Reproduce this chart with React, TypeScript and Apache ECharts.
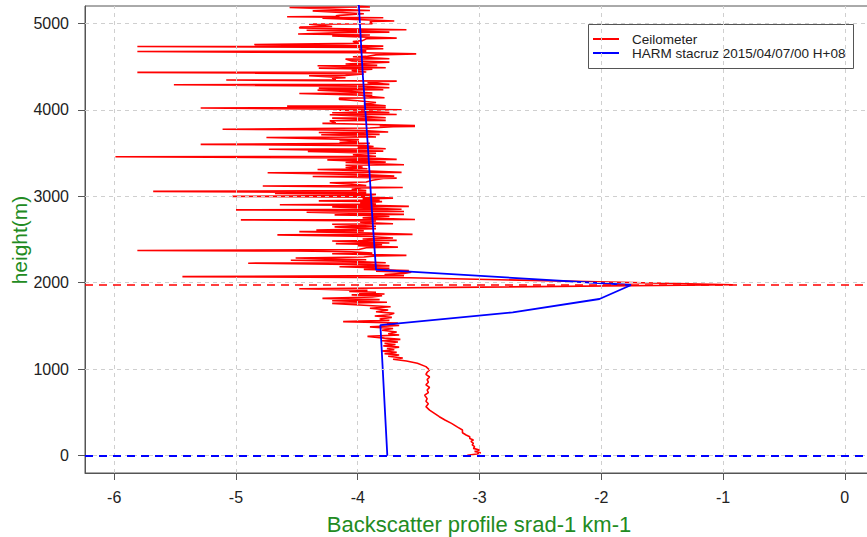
import { useEffect, useRef } from "react";
import * as echarts from "echarts";

// Axis ticks
const xTicks = [-6, -5, -4, -3, -2, -1, 0];
const yTicks = [0, 1000, 2000, 3000, 4000, 5000];

// Reference heights drawn as dashed horizontal lines (m)
const cloudLayerHeight = 1975;
const groundHeight = 0;

const seriesNames = ["Ceilometer", "HARM stacruz 2015/04/07/00 H+08"];

// Ceilometer backscatter profile: [log10 backscatter, height (m)]
const ceilometer: [number, number][] = [
  [-3.10, 5], [-3.02, 20], [-2.99, 35], [-3.04, 50], [-3.00, 66], [-3.05, 85], [-3.04, 104],
  [-3.06, 125], [-3.05, 143], [-3.07, 165], [-3.05, 181], [-3.08, 200], [-3.08, 220],
  [-3.11, 240], [-3.14, 265], [-3.14, 297], [-3.18, 330], [-3.23, 374], [-3.28, 410],
  [-3.33, 451], [-3.37, 490], [-3.41, 528], [-3.44, 567], [-3.42, 600], [-3.44, 630],
  [-3.43, 660], [-3.45, 700], [-3.42, 730], [-3.43, 760], [-3.41, 790], [-3.44, 820],
  [-3.42, 850], [-3.43, 880], [-3.41, 910], [-3.44, 940], [-3.43, 965], [-3.41, 991],
  [-3.44, 1030], [-3.51, 1068], [-3.60, 1095], [-3.71, 1115], [-3.63, 1130], [-3.75, 1150],
  [-3.66, 1165], [-3.78, 1180], [-3.68, 1195], [-3.80, 1210], [-3.70, 1225], [-3.76, 1240],
  [-3.66, 1255], [-3.79, 1270], [-3.69, 1285], [-3.78, 1300], [-3.67, 1315], [-3.80, 1330],
  [-3.65, 1345], [-3.78, 1360], [-3.92, 1380], [-3.66, 1395], [-3.75, 1410], [-3.68, 1430],
  [-3.80, 1450], [-3.71, 1470], [-3.90, 1490], [-3.66, 1505], [-3.76, 1520], [-3.67, 1535],
  [-4.12, 1550], [-3.74, 1565], [-3.82, 1580], [-3.72, 1600], [-3.86, 1615], [-3.74, 1630],
  [-3.70, 1646], [-3.85, 1665], [-3.75, 1684], [-3.90, 1705], [-3.73, 1723], [-3.95, 1740],
  [-4.21, 1761], [-3.76, 1775], [-4.21, 1792], [-3.82, 1805], [-4.29, 1819], [-3.88, 1835],
  [-3.80, 1850], [-4.05, 1860], [-3.78, 1870], [-3.99, 1880], [-3.85, 1890], [-4.07, 1900],
  [-3.92, 1912], [-4.48, 1930], [-0.92, 1976], [-3.58, 2058], [-5.44, 2071], [-3.62, 2082],
  [-3.78, 2095], [-3.62, 2108], [-3.56, 2121], [-3.85, 2133], [-3.58, 2141], [-3.95, 2155],
  [-3.74, 2167], [-4.15, 2185], [-3.74, 2195], [-3.90, 2210], [-4.90, 2226], [-3.77, 2232],
  [-4.00, 2245], [-4.55, 2260], [-3.93, 2266], [-4.51, 2286], [-3.95, 2298], [-3.85, 2310],
  [-3.60, 2316], [-4.21, 2335], [-3.88, 2343], [-4.05, 2358], [-4.52, 2368], [-5.81, 2372],
  [-3.99, 2385], [-3.93, 2405], [-3.67, 2412], [-4.00, 2428], [-3.80, 2440], [-4.18, 2452],
  [-3.74, 2460], [-4.21, 2483], [-3.68, 2490], [-3.96, 2505], [-3.71, 2518], [-3.90, 2535],
  [-4.66, 2553], [-3.55, 2559], [-3.90, 2575], [-4.48, 2591], [-3.95, 2600], [-4.34, 2610],
  [-3.85, 2625], [-4.19, 2646], [-3.85, 2652], [-4.21, 2676], [-3.71, 2682], [-3.98, 2700],
  [-3.85, 2715], [-4.96, 2727], [-3.53, 2732], [-3.96, 2750], [-3.74, 2766], [-3.90, 2778],
  [-4.19, 2785], [-3.62, 2790], [-4.42, 2815], [-3.62, 2824], [-3.90, 2835], [-5.00, 2843],
  [-3.64, 2850], [-3.95, 2865], [-4.21, 2877], [-3.58, 2883], [-3.90, 2895], [-4.64, 2902],
  [-3.85, 2910], [-3.98, 2925], [-3.80, 2938], [-4.32, 2947], [-3.82, 2955], [-3.96, 2970],
  [-3.71, 2978], [-3.92, 2990], [-5.03, 2999], [-3.93, 3010], [-3.85, 3022], [-4.68, 3033],
  [-3.93, 3042], [-5.68, 3056], [-3.93, 3065], [-4.05, 3080], [-3.97, 3095], [-3.63, 3101],
  [-4.78, 3118], [-3.93, 3125], [-4.05, 3140], [-4.23, 3156], [-3.93, 3165], [-3.88, 3185],
  [-3.79, 3205], [-3.68, 3210], [-4.37, 3228], [-3.70, 3233], [-3.95, 3250], [-4.74, 3271],
  [-3.64, 3276], [-3.90, 3292], [-4.33, 3310], [-3.92, 3318], [-4.10, 3332], [-3.96, 3338],
  [-4.10, 3358], [-3.62, 3364], [-3.90, 3378], [-4.10, 3390], [-3.77, 3395], [-4.25, 3421],
  [-3.68, 3426], [-3.92, 3442], [-5.99, 3457], [-3.85, 3462], [-4.04, 3480], [-3.85, 3498],
  [-4.41, 3517], [-3.79, 3522], [-4.73, 3544], [-3.77, 3549], [-4.00, 3565], [-3.87, 3575],
  [-3.95, 3585], [-5.29, 3600], [-3.90, 3612], [-4.15, 3622], [-3.99, 3630], [-4.15, 3648],
  [-3.99, 3655], [-4.75, 3680], [-3.85, 3686], [-4.00, 3700], [-4.30, 3711], [-3.82, 3716],
  [-4.32, 3738], [-3.75, 3743], [-3.95, 3760], [-4.41, 3770], [-5.11, 3775], [-3.90, 3790],
  [-3.71, 3803], [-3.53, 3808], [-3.82, 3815], [-3.53, 3819], [-3.95, 3832], [-4.29, 3843],
  [-4.18, 3847], [-4.23, 3873], [-3.77, 3877], [-4.21, 3903], [-3.77, 3907], [-3.95, 3925],
  [-4.23, 3942], [-3.68, 3946], [-4.21, 3965], [-3.74, 3969], [-4.15, 3996], [-3.64, 4000],
  [-5.29, 4020], [-3.77, 4025], [-4.58, 4042], [-3.77, 4047], [-3.95, 4065], [-3.85, 4085],
  [-4.00, 4105], [-4.15, 4120], [-4.15, 4135], [-3.78, 4139], [-3.96, 4162], [-3.88, 4166],
  [-4.48, 4189], [-3.88, 4194], [-4.05, 4210], [-4.33, 4227], [-3.79, 4231], [-4.32, 4250],
  [-3.74, 4254], [-3.95, 4272], [-5.51, 4290], [-3.74, 4294], [-3.92, 4312], [-3.79, 4327],
  [-3.68, 4331], [-5.08, 4344], [-4.18, 4348], [-4.21, 4366], [-4.10, 4370], [-4.40, 4393],
  [-4.10, 4397], [-3.95, 4414], [-5.81, 4432], [-3.93, 4436], [-4.05, 4455], [-3.88, 4470],
  [-4.32, 4482], [-3.77, 4486], [-4.33, 4509], [-3.84, 4513], [-4.10, 4530], [-3.74, 4551],
  [-4.05, 4565], [-4.10, 4586], [-3.74, 4590], [-4.04, 4613], [-3.93, 4617], [-3.85, 4635],
  [-3.52, 4646], [-3.95, 4660], [-5.81, 4674], [-3.93, 4678], [-3.99, 4700], [-3.79, 4705],
  [-3.95, 4720], [-5.81, 4732], [-3.79, 4736], [-4.34, 4750], [-4.85, 4755], [-3.99, 4770],
  [-4.04, 4790], [-3.96, 4800], [-3.93, 4822], [-3.68, 4828], [-4.21, 4855], [-3.90, 4865],
  [-4.49, 4876], [-4.18, 4890], [-3.74, 4898], [-4.42, 4920], [-3.60, 4925], [-4.48, 4945],
  [-4.47, 4958], [-4.21, 4963], [-4.40, 4990], [-3.88, 4994], [-3.90, 5020], [-3.70, 5026],
  [-4.29, 5060], [-3.79, 5064], [-4.58, 5076], [-4.15, 5080], [-4.18, 5088], [-4.15, 5092],
  [-3.95, 5110], [-4.37, 5144], [-3.90, 5148], [-4.56, 5183], [-3.90, 5188], [-3.99, 5200],
  [-4.00, 5215],
];

// HARMONIE model profile at the Santa Cruz station
const harm: [number, number][] = [
  [-3.757, 0], [-3.814, 1511], [-2.727, 1658], [-2.015, 1812], [-1.754, 1974],
  [-3.85, 2151], [-3.882, 2795], [-3.918, 3604], [-3.959, 4414], [-3.99, 5192], [-4.0, 5300],
];

const FONT = "'Liberation Sans', Arial, Helvetica, sans-serif";
const TITLE_GREEN = "#228B22";
const FRAME = "#555555";
const GRID_LINE = { color: "#cfcfcf", width: 1, type: [4, 4] as number[] };

export default function App() {
  const ref = useRef<HTMLDivElement>(null);

  useEffect(() => {
    if (!ref.current) return;
    const chart = echarts.init(ref.current, null, { renderer: "svg" });

    const option: any = {
      animation: false,
      backgroundColor: "#ffffff",
      grid: {
        left: 85,
        top: 6,
        width: 789,
        height: 467,
        show: true,
        borderColor: FRAME,
        borderWidth: 1,
        backgroundColor: "transparent",
        containLabel: false,
        outerBoundsMode: "none",
      },
      xAxis: {
        type: "value",
        min: -6.24,
        max: 0.24,
        axisLine: { show: true, onZero: false, lineStyle: { color: FRAME, width: 1 } },
        axisTick: { show: true, length: 7, customValues: xTicks, lineStyle: { color: FRAME } },
        axisLabel: {
          customValues: xTicks,
          margin: 16,
          fontSize: 16,
          color: "#222",
          fontFamily: FONT,
          formatter: (v: number) => String(v),
        },
        splitLine: { show: false },
      },
      yAxis: {
        type: "value",
        min: -200,
        max: 5200,
        axisLine: { show: true, onZero: false, lineStyle: { color: FRAME, width: 1 } },
        axisTick: { show: true, length: 7, customValues: yTicks, lineStyle: { color: FRAME } },
        axisLabel: {
          customValues: yTicks,
          margin: 16,
          fontSize: 16,
          color: "#222",
          fontFamily: FONT,
          formatter: (v: number) => String(v),
        },
        splitLine: { show: false },
      },
      series: [
        {
          name: "gridlines",
          type: "line",
          data: [],
          silent: true,
          z: 1,
          markLine: {
            silent: true,
            symbol: ["none", "none"],
            label: { show: false },
            lineStyle: GRID_LINE,
            emphasis: { disabled: true },
            data: [
              ...xTicks.map((v) => ({ xAxis: v })),
              ...yTicks.map((v) => ({ yAxis: v })),
            ],
          },
        },
        {
          name: seriesNames[0],
          type: "line",
          data: ceilometer,
          showSymbol: false,
          clip: true,
          z: 3,
          lineStyle: { color: "#ff0000", width: 1.6 },
          markLine: {
            silent: true,
            symbol: ["none", "none"],
            label: { show: false },
            lineStyle: { color: "#ff0000", width: 1.6, type: [8, 6] },
            data: [{ yAxis: cloudLayerHeight }],
          },
        },
        {
          name: seriesNames[1],
          type: "line",
          data: harm,
          showSymbol: false,
          clip: true,
          z: 4,
          lineStyle: { color: "#0000ff", width: 1.8 },
          markLine: {
            silent: true,
            symbol: ["none", "none"],
            label: { show: false },
            lineStyle: { color: "#0000ff", width: 1.8, type: [8, 6] },
            data: [{ yAxis: groundHeight }],
          },
        },
      ],
      graphic: [
        {
          type: "text",
          x: 19,
          y: 240,
          rotation: Math.PI / 2,
          style: {
            text: "height(m)",
            fontSize: 21,
            fontFamily: FONT,
            fill: TITLE_GREEN,
            align: "center",
            verticalAlign: "middle",
          },
        },
        {
          type: "text",
          x: 479,
          y: 524,
          style: {
            text: "Backscatter profile srad-1 km-1",
            fontSize: 22,
            fontFamily: FONT,
            fill: TITLE_GREEN,
            align: "center",
            verticalAlign: "middle",
          },
        },
        {
          type: "group",
          z: 100,
          children: [
            {
              type: "rect",
              shape: { x: 588.5, y: 24.5, width: 265, height: 44 },
              style: { fill: "#ffffff", stroke: FRAME, lineWidth: 1 },
            },
            {
              type: "line",
              shape: { x1: 593, y1: 39, x2: 619, y2: 39 },
              style: { stroke: "#ff0000", lineWidth: 2 },
            },
            {
              type: "line",
              shape: { x1: 593, y1: 53, x2: 619, y2: 53 },
              style: { stroke: "#0000ff", lineWidth: 2 },
            },
            {
              type: "text",
              x: 632,
              y: 39,
              style: { text: seriesNames[0], fontSize: 13.5, fontFamily: FONT, fill: "#222", verticalAlign: "middle" },
            },
            {
              type: "text",
              x: 632,
              y: 53,
              style: { text: seriesNames[1], fontSize: 13.5, fontFamily: FONT, fill: "#222", verticalAlign: "middle" },
            },
          ],
        },
      ],
    };

    chart.setOption(option);
    return () => chart.dispose();
  }, []);

  return (
    <div
      ref={ref}
      style={{ position: "fixed", left: 0, top: 0, width: 867, height: 537, background: "#fff" }}
    />
  );
}
